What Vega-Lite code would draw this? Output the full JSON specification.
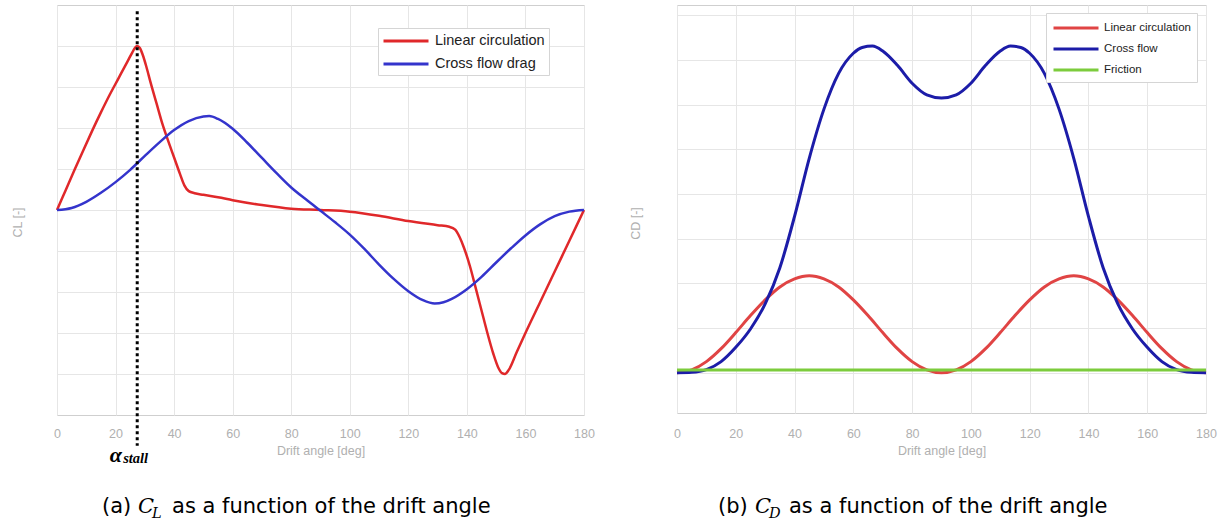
{
  "$schema": "https://vega.github.io/schema/vega-lite/v6.json",
  "padding": {"left": 10, "top": 4, "right": 5, "bottom": 2},
  "spacing": 33,
  "config": {
    "view": {"stroke": "#cfcfcf", "strokeWidth": 1},
    "font": "Liberation Sans",
    "axis": {
      "grid": true, "gridColor": "#e6e6e6", "gridWidth": 1,
      "domain": false, "ticks": false,
      "labelColor": "#b0b0b0", "titleColor": "#b0b0b0",
      "labelFont": "Liberation Sans", "titleFont": "Liberation Sans",
      "labelFontSize": 12.5, "titleFontSize": 12.5, "titleFontWeight": "normal"
    }
  },
  "resolve": {"scale": {"color": "independent", "x": "independent", "y": "independent"}},
  "datasets": {
    "cl": [
      {"deg": 0, "v": 0, "series": "Linear circulation"},
      {"deg": 3, "v": 0.49, "series": "Linear circulation"},
      {"deg": 6, "v": 0.98, "series": "Linear circulation"},
      {"deg": 9, "v": 1.46, "series": "Linear circulation"},
      {"deg": 12, "v": 1.93, "series": "Linear circulation"},
      {"deg": 15, "v": 2.38, "series": "Linear circulation"},
      {"deg": 18, "v": 2.81, "series": "Linear circulation"},
      {"deg": 21, "v": 3.21, "series": "Linear circulation"},
      {"deg": 23, "v": 3.48, "series": "Linear circulation"},
      {"deg": 24.5, "v": 3.68, "series": "Linear circulation"},
      {"deg": 25.7, "v": 3.84, "series": "Linear circulation"},
      {"deg": 26.6, "v": 3.95, "series": "Linear circulation"},
      {"deg": 27.4, "v": 4.0, "series": "Linear circulation"},
      {"deg": 28.3, "v": 3.95, "series": "Linear circulation"},
      {"deg": 29.3, "v": 3.78, "series": "Linear circulation"},
      {"deg": 30.5, "v": 3.5, "series": "Linear circulation"},
      {"deg": 32, "v": 3.1, "series": "Linear circulation"},
      {"deg": 34, "v": 2.6, "series": "Linear circulation"},
      {"deg": 36, "v": 2.1, "series": "Linear circulation"},
      {"deg": 38, "v": 1.68, "series": "Linear circulation"},
      {"deg": 40, "v": 1.28, "series": "Linear circulation"},
      {"deg": 42, "v": 0.88, "series": "Linear circulation"},
      {"deg": 43.5, "v": 0.6, "series": "Linear circulation"},
      {"deg": 45, "v": 0.46, "series": "Linear circulation"},
      {"deg": 47, "v": 0.41, "series": "Linear circulation"},
      {"deg": 50, "v": 0.37, "series": "Linear circulation"},
      {"deg": 55, "v": 0.31, "series": "Linear circulation"},
      {"deg": 60, "v": 0.24, "series": "Linear circulation"},
      {"deg": 70, "v": 0.12, "series": "Linear circulation"},
      {"deg": 80, "v": 0.03, "series": "Linear circulation"},
      {"deg": 90, "v": 0.0, "series": "Linear circulation"},
      {"deg": 100, "v": -0.04, "series": "Linear circulation"},
      {"deg": 110, "v": -0.14, "series": "Linear circulation"},
      {"deg": 120, "v": -0.27, "series": "Linear circulation"},
      {"deg": 130, "v": -0.37, "series": "Linear circulation"},
      {"deg": 134, "v": -0.41, "series": "Linear circulation"},
      {"deg": 136, "v": -0.48, "series": "Linear circulation"},
      {"deg": 137.5, "v": -0.66, "series": "Linear circulation"},
      {"deg": 139, "v": -0.92, "series": "Linear circulation"},
      {"deg": 141, "v": -1.36, "series": "Linear circulation"},
      {"deg": 143, "v": -1.9, "series": "Linear circulation"},
      {"deg": 145, "v": -2.45, "series": "Linear circulation"},
      {"deg": 147, "v": -3.0, "series": "Linear circulation"},
      {"deg": 149, "v": -3.5, "series": "Linear circulation"},
      {"deg": 150.7, "v": -3.84, "series": "Linear circulation"},
      {"deg": 152, "v": -3.98, "series": "Linear circulation"},
      {"deg": 153, "v": -4.0, "series": "Linear circulation"},
      {"deg": 154.3, "v": -3.9, "series": "Linear circulation"},
      {"deg": 157, "v": -3.47, "series": "Linear circulation"},
      {"deg": 160, "v": -3.0, "series": "Linear circulation"},
      {"deg": 165, "v": -2.25, "series": "Linear circulation"},
      {"deg": 170, "v": -1.5, "series": "Linear circulation"},
      {"deg": 175, "v": -0.75, "series": "Linear circulation"},
      {"deg": 180, "v": 0, "series": "Linear circulation"},
      {"deg": 0, "v": 0, "series": "Cross flow drag"},
      {"deg": 5, "v": 0.05, "series": "Cross flow drag"},
      {"deg": 10, "v": 0.2, "series": "Cross flow drag"},
      {"deg": 15, "v": 0.42, "series": "Cross flow drag"},
      {"deg": 20, "v": 0.68, "series": "Cross flow drag"},
      {"deg": 25, "v": 0.98, "series": "Cross flow drag"},
      {"deg": 30, "v": 1.32, "series": "Cross flow drag"},
      {"deg": 35, "v": 1.65, "series": "Cross flow drag"},
      {"deg": 40, "v": 1.95, "series": "Cross flow drag"},
      {"deg": 45, "v": 2.17, "series": "Cross flow drag"},
      {"deg": 50, "v": 2.28, "series": "Cross flow drag"},
      {"deg": 52, "v": 2.29, "series": "Cross flow drag"},
      {"deg": 55, "v": 2.22, "series": "Cross flow drag"},
      {"deg": 60, "v": 1.98, "series": "Cross flow drag"},
      {"deg": 65, "v": 1.64, "series": "Cross flow drag"},
      {"deg": 70, "v": 1.27, "series": "Cross flow drag"},
      {"deg": 75, "v": 0.9, "series": "Cross flow drag"},
      {"deg": 80, "v": 0.55, "series": "Cross flow drag"},
      {"deg": 85, "v": 0.26, "series": "Cross flow drag"},
      {"deg": 90, "v": -0.02, "series": "Cross flow drag"},
      {"deg": 95, "v": -0.3, "series": "Cross flow drag"},
      {"deg": 100, "v": -0.6, "series": "Cross flow drag"},
      {"deg": 105, "v": -0.95, "series": "Cross flow drag"},
      {"deg": 110, "v": -1.33, "series": "Cross flow drag"},
      {"deg": 115, "v": -1.68, "series": "Cross flow drag"},
      {"deg": 120, "v": -1.98, "series": "Cross flow drag"},
      {"deg": 125, "v": -2.2, "series": "Cross flow drag"},
      {"deg": 129, "v": -2.28, "series": "Cross flow drag"},
      {"deg": 132, "v": -2.25, "series": "Cross flow drag"},
      {"deg": 135, "v": -2.16, "series": "Cross flow drag"},
      {"deg": 140, "v": -1.93, "series": "Cross flow drag"},
      {"deg": 145, "v": -1.63, "series": "Cross flow drag"},
      {"deg": 150, "v": -1.28, "series": "Cross flow drag"},
      {"deg": 155, "v": -0.94, "series": "Cross flow drag"},
      {"deg": 160, "v": -0.62, "series": "Cross flow drag"},
      {"deg": 165, "v": -0.35, "series": "Cross flow drag"},
      {"deg": 170, "v": -0.15, "series": "Cross flow drag"},
      {"deg": 175, "v": -0.04, "series": "Cross flow drag"},
      {"deg": 180, "v": 0, "series": "Cross flow drag"}
    ],
    "cd": [
      {"deg": 0, "v": 0, "series": "Linear circulation"},
      {"deg": 5, "v": 0.065, "series": "Linear circulation"},
      {"deg": 10, "v": 0.25, "series": "Linear circulation"},
      {"deg": 15, "v": 0.54, "series": "Linear circulation"},
      {"deg": 20, "v": 0.9, "series": "Linear circulation"},
      {"deg": 25, "v": 1.28, "series": "Linear circulation"},
      {"deg": 30, "v": 1.63, "series": "Linear circulation"},
      {"deg": 35, "v": 1.92, "series": "Linear circulation"},
      {"deg": 40, "v": 2.1, "series": "Linear circulation"},
      {"deg": 45, "v": 2.17, "series": "Linear circulation"},
      {"deg": 50, "v": 2.1, "series": "Linear circulation"},
      {"deg": 55, "v": 1.92, "series": "Linear circulation"},
      {"deg": 60, "v": 1.63, "series": "Linear circulation"},
      {"deg": 65, "v": 1.28, "series": "Linear circulation"},
      {"deg": 70, "v": 0.9, "series": "Linear circulation"},
      {"deg": 75, "v": 0.54, "series": "Linear circulation"},
      {"deg": 80, "v": 0.25, "series": "Linear circulation"},
      {"deg": 85, "v": 0.065, "series": "Linear circulation"},
      {"deg": 90, "v": 0, "series": "Linear circulation"},
      {"deg": 95, "v": 0.065, "series": "Linear circulation"},
      {"deg": 100, "v": 0.25, "series": "Linear circulation"},
      {"deg": 105, "v": 0.54, "series": "Linear circulation"},
      {"deg": 110, "v": 0.9, "series": "Linear circulation"},
      {"deg": 115, "v": 1.28, "series": "Linear circulation"},
      {"deg": 120, "v": 1.63, "series": "Linear circulation"},
      {"deg": 125, "v": 1.92, "series": "Linear circulation"},
      {"deg": 130, "v": 2.1, "series": "Linear circulation"},
      {"deg": 135, "v": 2.17, "series": "Linear circulation"},
      {"deg": 140, "v": 2.1, "series": "Linear circulation"},
      {"deg": 145, "v": 1.92, "series": "Linear circulation"},
      {"deg": 150, "v": 1.63, "series": "Linear circulation"},
      {"deg": 155, "v": 1.28, "series": "Linear circulation"},
      {"deg": 160, "v": 0.9, "series": "Linear circulation"},
      {"deg": 165, "v": 0.54, "series": "Linear circulation"},
      {"deg": 170, "v": 0.25, "series": "Linear circulation"},
      {"deg": 175, "v": 0.065, "series": "Linear circulation"},
      {"deg": 180, "v": 0, "series": "Linear circulation"},
      {"deg": 0, "v": 0, "series": "Cross flow"},
      {"deg": 5, "v": 0.01, "series": "Cross flow"},
      {"deg": 10, "v": 0.07, "series": "Cross flow"},
      {"deg": 15, "v": 0.25, "series": "Cross flow"},
      {"deg": 20, "v": 0.57, "series": "Cross flow"},
      {"deg": 25, "v": 0.98, "series": "Cross flow"},
      {"deg": 30, "v": 1.54, "series": "Cross flow"},
      {"deg": 35, "v": 2.35, "series": "Cross flow"},
      {"deg": 40, "v": 3.5, "series": "Cross flow"},
      {"deg": 45, "v": 4.8, "series": "Cross flow"},
      {"deg": 50, "v": 5.9, "series": "Cross flow"},
      {"deg": 55, "v": 6.7, "series": "Cross flow"},
      {"deg": 60, "v": 7.15, "series": "Cross flow"},
      {"deg": 63, "v": 7.28, "series": "Cross flow"},
      {"deg": 66.5, "v": 7.31, "series": "Cross flow"},
      {"deg": 70, "v": 7.2, "series": "Cross flow"},
      {"deg": 75, "v": 6.88, "series": "Cross flow"},
      {"deg": 80, "v": 6.48, "series": "Cross flow"},
      {"deg": 85, "v": 6.22, "series": "Cross flow"},
      {"deg": 90, "v": 6.15, "series": "Cross flow"},
      {"deg": 95, "v": 6.22, "series": "Cross flow"},
      {"deg": 100, "v": 6.48, "series": "Cross flow"},
      {"deg": 105, "v": 6.88, "series": "Cross flow"},
      {"deg": 110, "v": 7.2, "series": "Cross flow"},
      {"deg": 113.5, "v": 7.31, "series": "Cross flow"},
      {"deg": 117, "v": 7.28, "series": "Cross flow"},
      {"deg": 120, "v": 7.15, "series": "Cross flow"},
      {"deg": 125, "v": 6.7, "series": "Cross flow"},
      {"deg": 130, "v": 5.9, "series": "Cross flow"},
      {"deg": 135, "v": 4.8, "series": "Cross flow"},
      {"deg": 140, "v": 3.5, "series": "Cross flow"},
      {"deg": 145, "v": 2.35, "series": "Cross flow"},
      {"deg": 150, "v": 1.54, "series": "Cross flow"},
      {"deg": 155, "v": 0.98, "series": "Cross flow"},
      {"deg": 160, "v": 0.57, "series": "Cross flow"},
      {"deg": 165, "v": 0.25, "series": "Cross flow"},
      {"deg": 170, "v": 0.07, "series": "Cross flow"},
      {"deg": 175, "v": 0.01, "series": "Cross flow"},
      {"deg": 180, "v": 0, "series": "Cross flow"},
      {"deg": 0, "v": 0.06, "series": "Friction"},
      {"deg": 90, "v": 0.06, "series": "Friction"},
      {"deg": 180, "v": 0.06, "series": "Friction"}
    ]
  },
  "hconcat": [
    {
      "width": 527,
      "height": 410,
      "layer": [
        {
          "data": {"name": "cl"},
          "mark": {"type": "line", "strokeWidth": 2.5, "interpolate": "monotone"},
          "encoding": {
            "x": {"field": "deg", "type": "quantitative",
              "scale": {"domain": [0, 180], "nice": false},
              "axis": {"values": [0, 20, 40, 60, 80, 100, 120, 140, 160, 180], "title": "Drift angle [deg]", "labelFlush": false, "labelPadding": 12, "titlePadding": 5}},
            "y": {"field": "v", "type": "quantitative",
              "scale": {"domain": [-5, 5], "nice": false, "zero": false},
              "axis": {"values": [-4, -3, -2, -1, 0, 1, 2, 3, 4], "labels": false, "title": "CL [-]", "titlePadding": 33, "titleY": 217}},
            "color": {"field": "series", "type": "nominal",
              "scale": {"domain": ["Linear circulation", "Cross flow drag"], "range": ["#e0282a", "#3434cc"]},
              "legend": {"orient": "none", "legendX": 321, "legendY": 23, "title": null,
                "symbolType": "M-1,0H5", "symbolSize": 225, "symbolStrokeWidth": 3,
                "labelFontSize": 14.5, "labelColor": "#222222", "labelFont": "Liberation Sans", "labelOffset": 35,
                "padding": 4, "rowPadding": 7, "fillColor": "white", "strokeColor": "#d5d5d5"}}
          }
        },
        {
          "data": {"values": [{"deg": 27.4, "v": 4.85, "v2": -5.75}]},
          "mark": {"type": "rule", "strokeDash": [3, 3], "strokeWidth": 3, "color": "black"},
          "encoding": {
            "x": {"field": "deg", "type": "quantitative"},
            "y": {"field": "v", "type": "quantitative"},
            "y2": {"field": "v2"}
          }
        },
        {
          "data": {"values": [{"deg": 18.0, "v": -5.97, "label": "α"}]},
          "mark": {"type": "text", "font": "Liberation Serif", "fontStyle": "italic", "fontWeight": "bold", "fontSize": 22, "align": "left", "baseline": "middle", "color": "black"},
          "encoding": {"x": {"field": "deg", "type": "quantitative"}, "y": {"field": "v", "type": "quantitative"}, "text": {"field": "label"}}
        },
        {
          "data": {"values": [{"deg": 22.6, "v": -6.08, "label": "stall"}]},
          "mark": {"type": "text", "font": "Liberation Serif", "fontStyle": "italic", "fontWeight": "bold", "fontSize": 14.5, "align": "left", "baseline": "middle", "color": "black"},
          "encoding": {"x": {"field": "deg", "type": "quantitative"}, "y": {"field": "v", "type": "quantitative"}, "text": {"field": "label"}}
        },
        {
          "data": {"values": [{"deg": 15.37, "v": -7.39, "label": "(a)"}, {"deg": 39.3, "v": -7.39, "label": "as a function of the drift angle"}]},
          "mark": {"type": "text", "font": "DejaVu Sans", "fontSize": 21, "align": "left", "baseline": "alphabetic", "color": "black"},
          "encoding": {"x": {"field": "deg", "type": "quantitative"}, "y": {"field": "v", "type": "quantitative"}, "text": {"field": "label"}}
        },
        {
          "data": {"values": [{"deg": 27.7, "v": -7.39, "label": "C"}]},
          "mark": {"type": "text", "font": "DejaVu Serif", "fontStyle": "italic", "fontSize": 21, "align": "left", "baseline": "alphabetic", "color": "black"},
          "encoding": {"x": {"field": "deg", "type": "quantitative"}, "y": {"field": "v", "type": "quantitative"}, "text": {"field": "label"}}
        },
        {
          "data": {"values": [{"deg": 32.45, "v": -7.51, "label": "L"}]},
          "mark": {"type": "text", "font": "DejaVu Serif", "fontStyle": "italic", "fontSize": 14.5, "align": "left", "baseline": "alphabetic", "color": "black"},
          "encoding": {"x": {"field": "deg", "type": "quantitative"}, "y": {"field": "v", "type": "quantitative"}, "text": {"field": "label"}}
        }
      ]
    },
    {
      "width": 529,
      "height": 408,
      "layer": [
        {
          "data": {"name": "cd"},
          "mark": {"type": "line", "strokeWidth": 3, "interpolate": "monotone"},
          "encoding": {
            "x": {"field": "deg", "type": "quantitative",
              "scale": {"domain": [0, 180], "nice": false},
              "axis": {"values": [0, 20, 40, 60, 80, 100, 120, 140, 160, 180], "title": "Drift angle [deg]", "labelFlush": false, "labelPadding": 14, "titlePadding": 5}},
            "y": {"field": "v", "type": "quantitative",
              "scale": {"domain": [-0.9, 8.23], "nice": false, "zero": false},
              "axis": {"values": [0, 1, 2, 3, 4, 5, 6, 7, 8], "labels": false, "title": "CD [-]", "titlePadding": 35, "titleY": 218}},
            "color": {"field": "series", "type": "nominal",
              "scale": {"domain": ["Linear circulation", "Cross flow", "Friction"], "range": ["#e04444", "#1c1ca8", "#7ccc3c"]},
              "legend": {"orient": "none", "legendX": 369, "legendY": 8, "title": null,
                "symbolType": "M-1,0H5", "symbolSize": 225, "symbolStrokeWidth": 3,
                "labelFontSize": 11.5, "labelColor": "#222222", "labelFont": "Liberation Sans", "labelOffset": 34,
                "padding": 6, "rowPadding": 6, "fillColor": "white", "strokeColor": "#d5d5d5"}}
          }
        },
        {
          "data": {"values": [{"deg": 13.95, "v": -3.13, "label": "(b)"}, {"deg": 38.1, "v": -3.13, "label": "as a function of the drift angle"}]},
          "mark": {"type": "text", "font": "DejaVu Sans", "fontSize": 21, "align": "left", "baseline": "alphabetic", "color": "black"},
          "encoding": {"x": {"field": "deg", "type": "quantitative"}, "y": {"field": "v", "type": "quantitative"}, "text": {"field": "label"}}
        },
        {
          "data": {"values": [{"deg": 26.5, "v": -3.13, "label": "C"}]},
          "mark": {"type": "text", "font": "DejaVu Serif", "fontStyle": "italic", "fontSize": 21, "align": "left", "baseline": "alphabetic", "color": "black"},
          "encoding": {"x": {"field": "deg", "type": "quantitative"}, "y": {"field": "v", "type": "quantitative"}, "text": {"field": "label"}}
        },
        {
          "data": {"values": [{"deg": 31.3, "v": -3.24, "label": "D"}]},
          "mark": {"type": "text", "font": "DejaVu Serif", "fontStyle": "italic", "fontSize": 14.5, "align": "left", "baseline": "alphabetic", "color": "black"},
          "encoding": {"x": {"field": "deg", "type": "quantitative"}, "y": {"field": "v", "type": "quantitative"}, "text": {"field": "label"}}
        }
      ]
    }
  ]
}
